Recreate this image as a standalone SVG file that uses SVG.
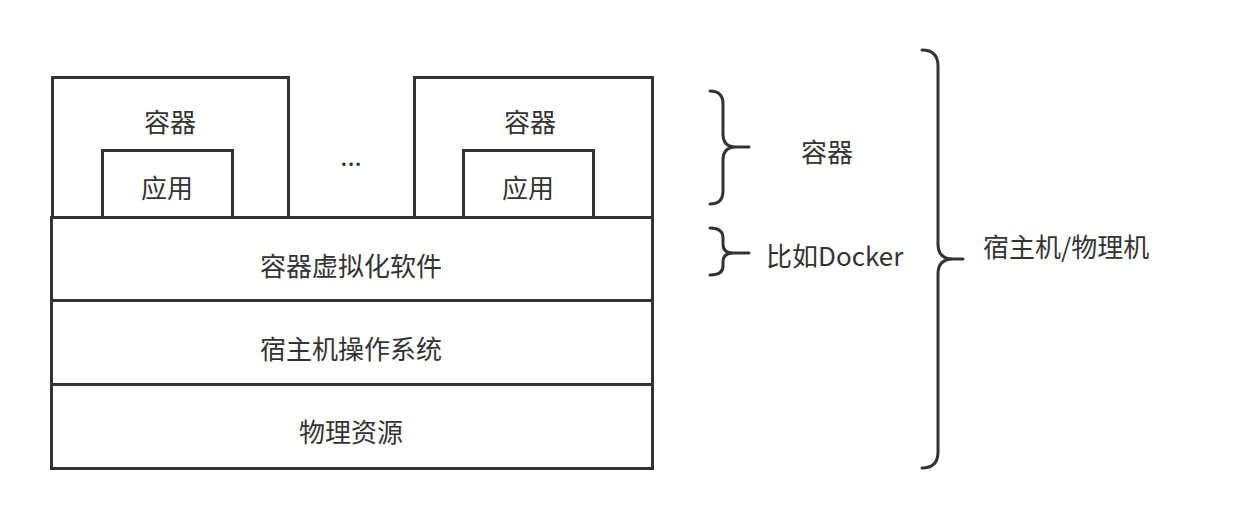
<svg xmlns="http://www.w3.org/2000/svg" width="1237" height="520" viewBox="0 0 1237 520">
<style>
.b{fill:#fff;stroke:#333;stroke-width:3}
.br{fill:none;stroke:#333;stroke-width:3;stroke-linecap:round}
text{font-family:"Noto Sans CJK SC","Microsoft YaHei",sans-serif;font-size:26px;fill:#333;dominant-baseline:central}
.c{text-anchor:middle}
</style>
<rect width="1237" height="520" fill="#fff"/>
<g id="container1"><rect class="b" x="52.5" y="77.5" width="236" height="140"/><text class="c" x="170" y="120">容器</text></g>
<g id="app1"><rect class="b" x="102.5" y="150.5" width="130" height="67"/><text class="c" x="167" y="186">应用</text></g>
<g id="dots"><text class="c" x="351" y="154">...</text></g>
<g id="container2"><rect class="b" x="414.5" y="77.5" width="238" height="140"/><text class="c" x="530" y="120">容器</text></g>
<g id="app2"><rect class="b" x="463.5" y="150.5" width="130" height="67"/><text class="c" x="528" y="186">应用</text></g>
<g id="virt"><rect class="b" x="51.5" y="217.5" width="601" height="83"/><text class="c" x="351" y="264">容器虚拟化软件</text></g>
<g id="os"><rect class="b" x="51.5" y="300.5" width="601" height="84"/><text class="c" x="351" y="347">宿主机操作系统</text></g>
<g id="hw"><rect class="b" x="51.5" y="384.5" width="601" height="84"/><text class="c" x="351" y="430">物理资源</text></g>
<g id="connectors">
<path class="br" d="M710 91 Q723 91 723 104 L723 134 Q723 147 736 147 L749 147 M736 147 Q723 147 723 160 L723 191 Q723 204 710 204"/>
<path class="br" d="M710 228 Q723 228 723 238 L723 244 Q723 253 733 253 L749 253 M733 253 Q723 253 723 262 L723 266 Q723 275 710 275"/>
<path class="br" d="M922 50 Q938 50 938 66 L938 244 Q938 259 953 259 L963 259 M953 259 Q938 259 938 274 L938 452 Q938 468 922 468"/>
</g>
<g id="labels">
<text class="c" x="827" y="150">容器</text>
<text x="766" y="254">比如Docker</text>
<text x="983" y="245">宿主机/物理机</text>
</g>
</svg>
